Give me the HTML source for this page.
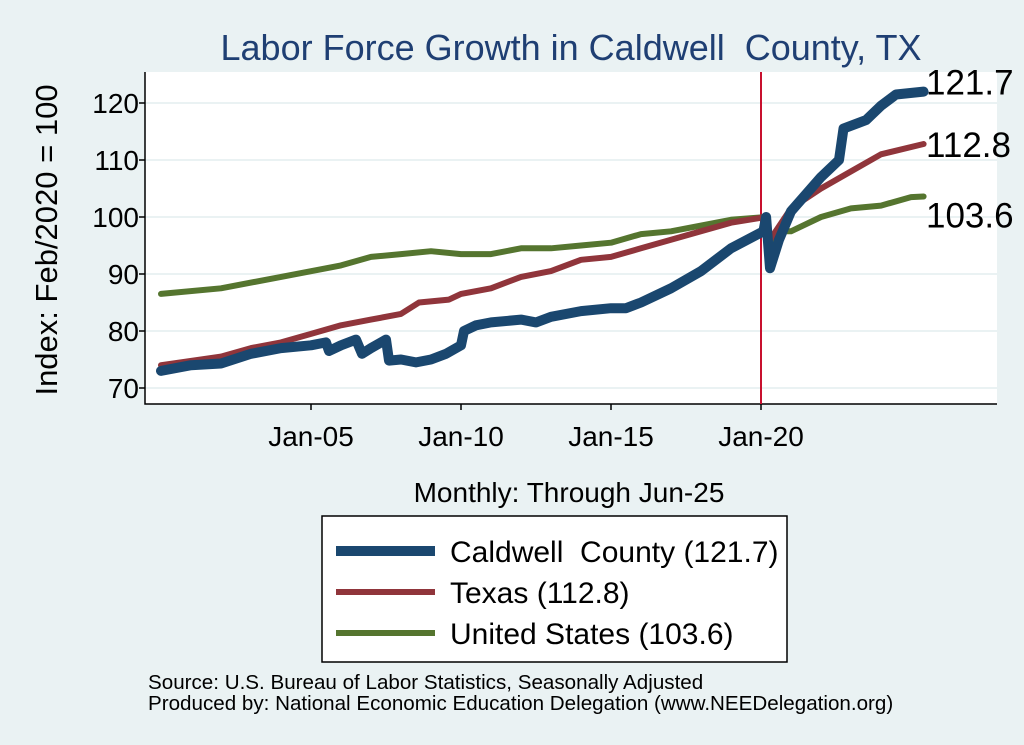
<!DOCTYPE html>
<html><head><meta charset="utf-8"><style>
body{margin:0;background:#eaf2f3;}
svg{display:block;font-family:"Liberation Sans",Arial,sans-serif;}
text{white-space:pre;}
</style></head><body>
<svg id="chart" width="1024" height="745" viewBox="0 0 1024 745" xml:space="preserve">
<rect width="1024" height="745" fill="#eaf2f3"/>
<rect x="145" y="72" width="852" height="332" fill="#fff"/>
<text x="571" y="60" font-size="36" fill="#1f3f73" text-anchor="middle">Labor Force Growth in Caldwell  County, TX</text>
<text transform="translate(57,240) rotate(-90)" font-size="31" text-anchor="middle" fill="#000">Index: Feb/2020 = 100</text>
<text x="569" y="502" font-size="28" text-anchor="middle">Monthly: Through Jun-25</text>
<g id="grid"></g><g id="axes"></g><g id="series"></g><g id="labels"></g>
<rect x="322" y="516" width="465" height="146" fill="#fff" stroke="#000" stroke-width="1.5"/>
<line x1="336" y1="551" x2="435" y2="551" stroke="#1a476f" stroke-width="10"/>
<text x="450" y="562" font-size="30">Caldwell  County (121.7)</text>
<line x1="336" y1="592" x2="435" y2="592" stroke="#90353b" stroke-width="6"/>
<text x="450" y="603" font-size="30">Texas (112.8)</text>
<line x1="336" y1="633" x2="435" y2="633" stroke="#55752f" stroke-width="6"/>
<text x="450" y="644" font-size="30">United States (103.6)</text>
<text x="148" y="689" font-size="20.6">Source: U.S. Bureau of Labor Statistics, Seasonally Adjusted</text>
<text x="148" y="710" font-size="20.6">Produced by: National Economic Education Delegation (www.NEEDelegation.org)</text>
</svg>
<script>
const yTicks=[70,80,90,100,110,120];
const xTickYears=[2005,2010,2015,2020];
const xTickLabels=["Jan-05","Jan-10","Jan-15","Jan-20"];
const caldT=[2000,2001,2002,2003,2004,2005,2005.5,2005.6,2006,2006.5,2006.7,2007,2007.5,2007.6,2008,2008.5,2009,2009.5,2010,2010.1,2010.5,2011,2012,2012.5,2013,2014,2015,2015.5,2016,2017,2018,2019,2020.08,2020.17,2020.3,2020.6,2021,2022,2022.6,2022.75,2023.5,2024,2024.5,2025.42];
const caldV=[73,74,74.3,76,77,77.5,78,76.5,77.5,78.5,76,77,78.5,74.8,75,74.5,75,76,77.5,80,81,81.5,82,81.5,82.5,83.5,84,84,85,87.5,90.5,94.5,97.5,100,91,96,101,107,110,115.5,117,119.5,121.5,122];
const txT=[2000,2002,2003,2004,2005,2006,2007,2008,2008.6,2009.6,2010,2011,2012,2013,2014,2015,2016,2017,2018,2019,2020.17,2020.3,2021,2022,2023,2024,2025.42];
const txV=[74,75.5,77,78,79.5,81,82,83,85,85.5,86.5,87.5,89.5,90.5,92.5,93,94.5,96,97.5,99,100,96,101.5,105,108,111,112.8];
const usT=[2000,2002,2004,2006,2007,2008,2009,2010,2011,2012,2013,2014,2015,2016,2017,2018,2019,2020.17,2020.3,2020.5,2021,2022,2023,2024,2025,2025.42];
const usV=[86.5,87.5,89.5,91.5,93,93.5,94,93.5,93.5,94.5,94.5,95,95.5,97,97.5,98.5,99.5,100,95.5,97.5,97.5,100,101.5,102,103.5,103.6];
const lastVals=[121.7,112.8,103.6];
const NS="http://www.w3.org/2000/svg";
function X(t){return 161+(t-2000)*30;}
function Y(v){return 217-(v-100)*5.7;}
function mk(tag,attrs,parent){const e=document.createElementNS(NS,tag);for(const k in attrs)e.setAttribute(k,attrs[k]);document.getElementById(parent).appendChild(e);return e;}
yTicks.forEach(v=>{
 const g=mk('line',{x1:145,x2:997,y1:Y(v),y2:Y(v),stroke:'#eaf2f3','stroke-width':2},'grid');
 
 
 const t=mk('line',{x1:139,x2:145,y1:Y(v),y2:Y(v),stroke:'#000','stroke-width':1.5},'axes');
 
 
 const l=mk('text',{x:139,y:Y(v)+10,'font-size':28,'text-anchor':'end'},'axes');
 l.textContent=v;
 
 
});
xTickYears.forEach((yr,i)=>{
 const t=mk('line',{x1:X(yr),x2:X(yr),y1:404,y2:410,stroke:'#000','stroke-width':1.5},'axes');
 
 
 const l=mk('text',{x:X(yr),y:446,'font-size':28,'text-anchor':'middle'},'axes');
 l.textContent=xTickLabels[i];
 
 
});
const ax=mk('path',{d:'M145 72 V404 H997',fill:'none',stroke:'#000','stroke-width':1.5},'axes');


const vl=mk('line',{x1:X(2020),x2:X(2020),y1:72,y2:404,stroke:'#c8102e','stroke-width':2},'series');


function line(T,V,color,w,name){
 const d=T.map((t,i)=>(i?'L':'M')+X(t).toFixed(1)+' '+Y(V[i]).toFixed(1)).join(' ');
 const p=mk('path',{d:d,fill:'none',stroke:color,'stroke-width':w,'stroke-linejoin':'round','stroke-linecap':'round'},'series');
 
 
}
line(usT,usV,'#55752f',6,'series-us');
line(txT,txV,'#90353b',6,'series-texas');
line(caldT,caldV,'#1a476f',10,'series-caldwell');
const labY=[Y(caldV[caldV.length-1])+3,Y(txV[txV.length-1])+13,Y(usV[usV.length-1])+31];
lastVals.forEach((v,i)=>{
 const l=mk('text',{x:926,y:labY[i],'font-size':35},'labels');
 l.textContent=v.toFixed(1);
 
 
});
</script>
</body></html>
